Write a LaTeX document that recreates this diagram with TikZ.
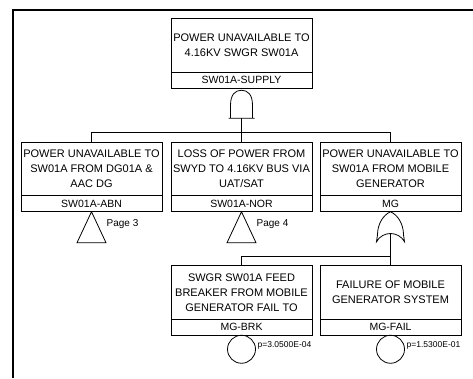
\documentclass[tikz,border=0pt]{standalone}
\usepackage{fontspec}
\setmainfont{Liberation Sans}
\usetikzlibrary{positioning}

\begin{document}
\begin{tikzpicture}[x=1pt, y=-1pt,
    event/.style = {rectangle, draw, line width=0.8pt, align=center, font=\fontsize{11}{15}\selectfont, minimum width=141pt, minimum height=53.5pt, inner sep=0pt, outer sep=0pt},
    eventid/.style = {rectangle, draw, line width=0.8pt, font=\fontsize{10.5}{12}\selectfont, minimum width=141pt, minimum height=16pt, inner sep=0pt, outer sep=0pt},
    basic/.style = {circle, draw, line width=0.8pt, minimum size=28pt, inner sep=0pt, outer sep=0pt},
    link/.style = {draw, line width=0.8pt},
    note/.style = {font=\fontsize{10}{12}\selectfont, inner sep=0pt},
    prob/.style = {font=\fontsize{8.5}{10}\selectfont, inner sep=0pt},
    andgate/.pic = {
        \draw[line width=0.8pt] (-13,28) -- (-11,28) -- (-11,15) .. controls (-11,4) and (-6,0) .. (0,0)
            .. controls (6,0) and (11,4) .. (11,15) -- (11,28) -- (13,28) -- cycle;
        \coordinate (-out) at (0,28);
    },
    orgate/.pic = {
        \draw[line width=0.8pt] (0,0) .. controls (7,3) and (13,12) .. (13,23) -- (14,30)
            .. controls (8,19) and (-8,19) .. (-14,30) -- (-13,23) .. controls (-13,12) and (-7,3) .. (0,0) -- cycle;
        \coordinate (-out) at (0,21.75);
    },
    transfer/.pic = {
        \draw[line width=0.8pt] (0,0) -- (14.5,31) -- (-14.5,31) -- cycle;
    }
]
\useasboundingbox (0,0) rectangle (473,378);

% Frame
\draw[line width=2pt] (13,378) -- (13,10) -- (473,10);

% Top event
\node[event] (top) at (241.5,45.5) {POWER UNAVAILABLE TO\\4.16KV SWGR SW01A};
\node[eventid, below=0pt of top] (top-id) {SW01A-SUPPLY};
\pic (topgate) at ([yshift=-2pt]top-id.south) {andgate};

% Second level
\node[event] (abn) at (91.5,169) {POWER UNAVAILABLE TO\\SW01A FROM DG01A \&\\AAC DG};
\node[eventid, below=0pt of abn] (abn-id) {SW01A-ABN};
\node[event] (nor) at (241.5,169) {LOSS OF POWER FROM\\SWYD TO 4.16KV BUS VIA\\UAT/SAT};
\node[eventid, below=0pt of nor] (nor-id) {SW01A-NOR};
\node[event] (mg) at (390.5,169) {POWER UNAVAILABLE TO\\SW01A FROM MOBILE\\GENERATOR};
\node[eventid, below=0pt of mg] (mg-id) {MG};

% Transfers
\pic (abnxfer) at (abn-id.south) {transfer};
\node[note, anchor=west] (abn-page) at ([xshift=15pt,yshift=-12pt]abn-id.south) {Page 3};
\pic (norxfer) at (nor-id.south) {transfer};
\node[note, anchor=west] (nor-page) at ([xshift=15pt,yshift=-12pt]nor-id.south) {Page 4};

\pic (mggate) at (mg-id.south) {orgate};

% Third level
\node[event] (mgbrk) at (241.5,292.5) {SWGR SW01A FEED\\BREAKER FROM MOBILE\\GENERATOR FAIL TO};
\node[eventid, below=0pt of mgbrk] (mgbrk-id) {MG-BRK};
\node[event] (mgfail) at (390.5,292.5) {FAILURE OF MOBILE\\GENERATOR SYSTEM};
\node[eventid, below=0pt of mgfail] (mgfail-id) {MG-FAIL};

% Basic events
\node[basic, below=0pt of mgbrk-id] (mgbrk-ev) {};
\node[prob, anchor=west] (mgbrk-p) at ([xshift=2pt,yshift=4pt]mgbrk-ev.east) {p=3.0500E-04};
\node[basic, below=0pt of mgfail-id] (mgfail-ev) {};
\node[prob, anchor=west] (mgfail-p) at ([xshift=2pt,yshift=4pt]mgfail-ev.east) {p=1.5300E-01};

% Connections
\draw[link] (topgate-out) -- ++(0,14) -| (abn.north);
\draw[link] (topgate-out) -- (nor.north);
\draw[link] (topgate-out) -- ++(0,14) -| (mg.north);
\draw[link] (mggate-out) -- ++(0,22.5) -| (mgbrk.north);
\draw[link] (mggate-out) -- (mgfail.north);

\end{tikzpicture}
\end{document}
